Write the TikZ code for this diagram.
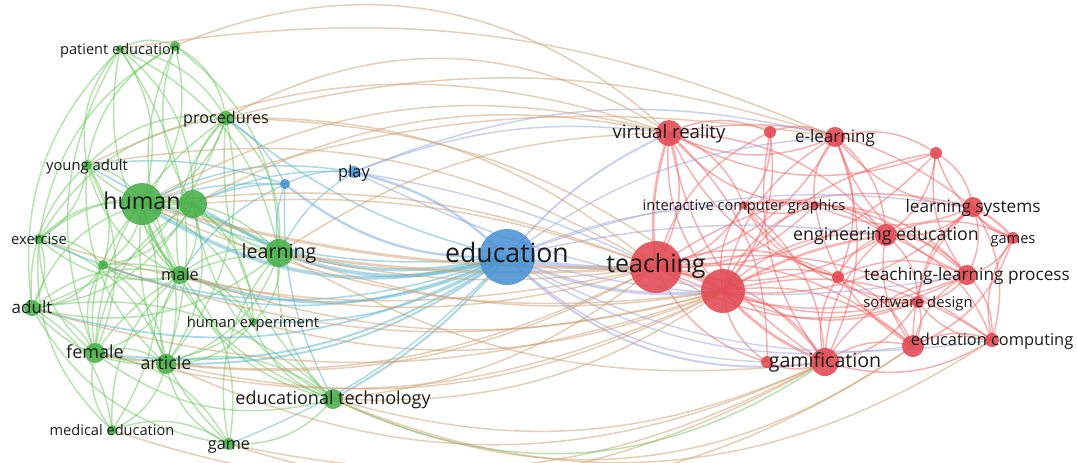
\documentclass[tikz,border=0pt]{standalone}
\usepackage{fontspec}
\setmainfont{Open Sans}
\usetikzlibrary{backgrounds}
\definecolor{gnode}{RGB}{72,176,72}
\definecolor{bnode}{RGB}{74,146,212}
\definecolor{rnode}{RGB}{226,72,82}
\definecolor{labc}{RGB}{28,28,28}
\definecolor{gedge}{RGB}{112,200,100}
\definecolor{redge}{RGB}{242,100,100}
\definecolor{tedge}{RGB}{208,158,112}
\definecolor{ledge}{RGB}{150,164,226}
\definecolor{cedge}{RGB}{92,180,206}
\definecolor{bedge}{RGB}{110,166,226}
\begin{document}
\begin{tikzpicture}[x=0.5pt,y=-0.5pt,
  bub/.style={circle,inner sep=0pt,draw=none,fill opacity=0.88,minimum size=#1pt},
  gn/.style={bub=#1,fill=gnode},
  bn/.style={bub=#1,fill=bnode},
  rn/.style={bub=#1,fill=rnode},
  lab/.style={text=labc,inner sep=0pt,text height=0.75em,text depth=0.2em,
    font=\fontsize{#1}{#1}\selectfont},
  link/.style={line width=0.75pt,draw opacity=0.5},
  ge/.style={link,draw=gedge},
  re/.style={link,draw=redge},
  te/.style={link,draw=tedge},
  le/.style={link,draw=ledge},
  ce/.style={link,draw=cedge},
  be/.style={link,draw=bedge}]
\useasboundingbox (0,0) rectangle (1077,462);
\clip (0,0) rectangle (1077,462);

% ---- green cluster
\node[gn=4]  (pe1)  at (120,49)  {};
\node[gn=5]  (pe2)  at (175,46)  {};
\node[gn=7]  (proc) at (226,118) {};
\node[gn=5]  (ya)   at (87,165)  {};
\node[gn=21] (hum)  at (142,204) {};
\node[gn=14] (g1)   at (193,204) {};
\node[gn=5]  (exer) at (39,239)  {};
\node[gn=5]  (g2)   at (103,265) {};
\node[gn=9]  (male) at (180,275) {};
\node[gn=14] (lrn)  at (279,253) {};
\node[gn=8]  (adult) at (32,308) {};
\node[gn=4]  (hexp) at (253,322) {};
\node[gn=10] (fem)  at (95,353)  {};
\node[gn=10] (art)  at (166,364) {};
\node[gn=10] (edt)  at (333,399) {};
\node[gn=5]  (med)  at (112,430) {};
\node[gn=6]  (game) at (229,444) {};
% ---- blue cluster
\node[bn=6]  (play) at (354,172) {};
\node[bn=5]  (b1)   at (285,184) {};
\node[bn=28] (edu)  at (507,257) {};
% ---- red cluster
\node[rn=13] (vr)   at (669,133) {};
\node[rn=6]  (r1)   at (770,132) {};
\node[rn=10] (el)   at (835,137) {};
\node[rn=6]  (r2)   at (936,153) {};
\node[rn=4]  (icg)  at (744,205) {};
\node[rn=4]  (r3)   at (815,205) {};
\node[rn=10] (ls)   at (973,207) {};
\node[rn=11] (ee)   at (886,235) {};
\node[rn=6]  (games) at (1013,238) {};
\node[rn=26] (tch)  at (656,267) {};
\node[rn=22] (r4)   at (723,291) {};
\node[rn=6]  (r5)   at (838,277) {};
\node[rn=10] (tlp)  at (967,275) {};
\node[rn=6]  (sd)   at (918,302) {};
\node[rn=11] (r6)   at (913,346) {};
\node[rn=7]  (ec)   at (992,340) {};
\node[rn=14] (gam)  at (825,362) {};
\node[rn=6]  (r7)   at (767,362) {};

\begin{pgfonlayer}{background}
\fill[white] (0,0) rectangle (1077,462);
% links inside the green cluster
\foreach \a/\b in {pe1/hum,pe1/g1,ya/pe1,pe1/proc,pe1/pe2,male/pe1,pe1/art,fem/pe1,pe1/lrn,adult/pe1,
  pe2/hum,g1/pe2,pe2/proc,male/pe2,ya/pe2,pe2/lrn,exer/pe2,
  proc/hum,g1/proc,proc/lrn,male/proc,ya/proc,proc/art,fem/proc,proc/adult,exer/proc,edt/proc,
  ya/hum,g1/ya,ya/exer,adult/ya,ya/fem,male/ya,art/ya,ya/g2,
  hum/g1,exer/hum,hum/g2,male/hum,hum/lrn,adult/hum,hum/hexp,fem/hum,hum/art,edt/hum,hum/med,game/hum,
  g1/male,lrn/g1,g1/adult,fem/g1,g1/art,edt/g1,g1/hexp,exer/g1,g1/g2,
  exer/adult,fem/exer,exer/art,male/exer,exer/g2,med/exer,
  g2/adult,fem/g2,g2/art,male/g2,g2/hexp,
  male/lrn,adult/male,male/fem,art/male,male/hexp,edt/male,male/game,med/male,
  lrn/art,edt/lrn,lrn/hexp,fem/lrn,lrn/adult,game/lrn,
  adult/fem,art/adult,adult/med,game/adult,adult/edt,
  hexp/art,edt/hexp,hexp/fem,
  fem/art,med/fem,fem/game,edt/fem,
  art/med,game/art,art/edt,edt/game,med/game}
  \draw[ge] (\a.center) to[bend left=26] (\b.center);
\draw[ge,line width=1.8pt] (hum.center) to[bend left=10] (g1.center);
\draw[ge,line width=1.4pt] (hum.center) to[bend right=14] (male.center);
\draw[ge,line width=1.4pt] (hum.center) to[bend left=14] (lrn.center);
\draw[ge,line width=1.2pt] (g1.center) to[bend right=14] (lrn.center);

% links inside the red cluster
\foreach \a/\b in {vr/tch,r4/vr,vr/r1,el/vr,vr/icg,r3/vr,vr/ee,gam/vr,vr/r7,r5/vr,vr/ls,r2/vr,
  r1/el,tch/r1,r1/r4,gam/r1,r1/icg,
  el/tch,r4/el,el/r2,ls/el,el/ee,r3/el,el/gam,tlp/el,el/r5,
  r2/ls,games/r2,r2/ee,tlp/r2,r2/tch,r4/r2,
  icg/tch,r4/icg,icg/ee,r3/icg,icg/gam,r5/icg,icg/tlp,sd/icg,
  r3/tch,r4/r3,r3/ee,ls/r3,r3/tlp,r6/r3,
  ls/ee,games/ls,ls/tlp,tch/ls,ls/r4,r6/ls,ls/ec,sd/ls,
  ee/tch,r4/ee,ee/tlp,r5/ee,ee/sd,r6/ee,ee/ec,gam/ee,ee/games,
  games/tlp,ec/games,games/r6,
  tch/r5,tlp/tch,tch/gam,r7/tch,tch/r6,sd/tch,tch/ec,
  r4/r5,tlp/r4,r4/gam,r7/r4,r4/r6,sd/r4,r4/ec,
  r5/tlp,gam/r5,r5/r6,sd/r5,
  tlp/sd,r6/tlp,tlp/ec,gam/tlp,
  sd/r6,ec/sd,sd/gam,
  r6/ec,gam/r6,ec/gam,gam/r7}
  \draw[re] (\a.center) to[bend left=24] (\b.center);
\draw[re,line width=2.0pt] (tch.center) to[bend left=10] (r4.center);
\draw[re,line width=1.4pt] (vr.center) to[bend right=12] (tch.center);
\draw[re,line width=1.4pt] (r4.center) to[bend right=12] (gam.center);
\draw[re,line width=1.2pt] (r4.center) to[bend left=10] (ee.center);
\draw[re,line width=1.2pt] (ls.center) to[bend left=10] (games.center);

% blue links
\draw[be] (b1.center) to[bend left=15] (play.center);
\draw[be,line width=1.2pt] (play.center) to[bend left=15] (edu.center);
\draw[be,line width=1.2pt] (b1.center) to[bend right=20] (edu.center);
\foreach \a/\b/\t in {b1/hum/10,b1/g1/12,b1/lrn/15,b1/proc/15,b1/male/15,b1/ya/12,play/hum/18,play/lrn/15,b1/edt/15,play/g1/14}
  \draw[ce] (\a.center) to[bend right=\t] (\b.center);
% education to the green cluster
\foreach \a/\t/\w in {hum/24/1.8,g1/22/1.6,lrn/18/1.8,male/22/1.4,art/18/1.0,fem/20/1.0,adult/22/0.9,
  exer/22/0.8,ya/18/0.8,g2/22/0.8,proc/12/0.8,edt/10/1.0,hexp/16/0.8,game/12/0.7}
  \draw[ce,line width=\w pt] (\a.center) to[bend right=\t] (edu.center);
% education and play to the red cluster
\foreach \b/\t/\w in {tch/6/2.2,r4/14/1.6,vr/-12/1.0,gam/26/1.0,ee/-10/0.8,ls/-14/0.7,el/-16/0.7,
  tlp/12/0.7,ec/18/0.7,icg/-10/0.7,r7/20/0.7,r6/20/0.7}
  \draw[le,line width=\w pt] (edu.center) to[bend right=\t] (\b.center);
\foreach \b/\t in {vr/-14,tch/-8,r4/8,el/-18}
  \draw[le] (play.center) to[bend right=\t] (\b.center);

% green to red links, upper arcs
\foreach \a/\b/\t in {pe2/vr/33,proc/vr/31,pe1/el/16,proc/tch/20,ya/tch/20,hum/vr/22,g1/vr/20,
  hum/tch/14,g1/tch/12,proc/r4/18,lrn/vr/16,ya/vr/22,hum/el/14,proc/el/16}
  \draw[te] (\a.center) to[bend left=\t] (\b.center);
% green to red links, lower arcs
\foreach \a/\b/\t in {lrn/tch/10,lrn/r4/14,male/tch/15,male/r4/17,adult/r4/18,fem/tch/18,fem/r4/20,
  art/tch/17,art/r4/20,edt/tch/16,edt/r4/18,edt/gam/20,edt/r6/30,hexp/r4/18,art/gam/25,
  game/r6/26,exer/tch/15,g2/r4/17,med/gam/24,game/gam/20,edt/ec/28,lrn/gam/18,hum/r4/16}
  \draw[te] (\a.center) to[bend right=\t] (\b.center);
\draw[te,line width=1.5pt] (hum.center) to[bend right=8] (tch.center);
\draw[te,line width=1.4pt] (lrn.center) to[bend right=6] (tch.center);
\draw[ge] (edt.center) to[bend right=30] (gam.center);
\end{pgfonlayer}

% ---- labels
\node[lab=7.3]  (pe1-l)  at (pe1)  {patient education};
\node[lab=8.1]  (proc-l) at (proc) {procedures};
\node[lab=7.4]  (ya-l)   at (ya)   {young adult};
\node[lab=11.6] (hum-l)  at (hum)  {human};
\node[lab=7.4]  (exer-l) at (exer) {exercise};
\node[lab=8.2]  (male-l) at (male) {male};
\node[lab=9.8]  (lrn-l)  at (lrn)  {learning};
\node[lab=8.5]  (adult-l) at (adult) {adult};
\node[lab=7.4]  (hexp-l) at (hexp) {human experiment};
\node[lab=9.0]  (fem-l)  at (fem)  {female};
\node[lab=8.9]  (art-l)  at (art)  {article};
\node[lab=9.0]  (edt-l)  at (edt)  {educational technology};
\node[lab=7.3]  (med-l)  at (med)  {medical education};
\node[lab=8.1]  (game-l) at (game) {game};
\node[lab=8.2]  (play-l) at (play) {play};
\node[lab=13.3] (edu-l)  at (edu)  {education};
\node[lab=9.3]  (vr-l)   at (vr)   {virtual reality};
\node[lab=8.5]  (el-l)   at (el)   {e-learning};
\node[lab=7.3]  (icg-l)  at (icg)  {interactive computer graphics};
\node[lab=8.6]  (ls-l)   at (ls)   {learning systems};
\node[lab=8.9]  (ee-l)   at (ee)   {engineering education};
\node[lab=7.3]  (games-l) at (games) {games};
\node[lab=12.5] (tch-l)  at (tch)  {teaching};
\node[lab=8.6]  (tlp-l)  at (tlp)  {teaching-learning process};
\node[lab=7.4]  (sd-l)   at (sd)   {software design};
\node[lab=8.2]  (ec-l)   at (ec)   {education computing};
\node[lab=9.8]  (gam-l)  at (gam)  {gamification};
\end{tikzpicture}
\end{document}
